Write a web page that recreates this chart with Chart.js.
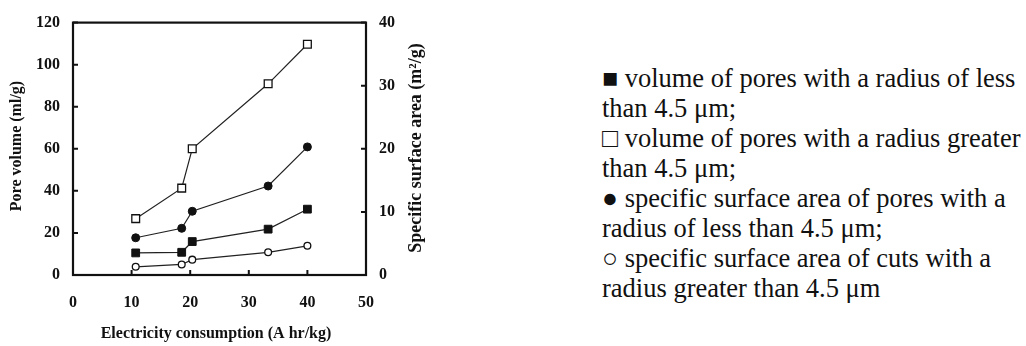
<!DOCTYPE html>
<html>
<head>
<meta charset="utf-8">
<script src="https://cdn.jsdelivr.net/npm/chart.js@4.4.1/dist/chart.umd.min.js"></script>
<style>
  html, body { margin: 0; padding: 0; background: #fff; }
  #wrap { position: relative; width: 1026px; height: 346px; overflow: hidden; }
  #chartBox { position: absolute; left: 0; top: 0; width: 440px; height: 346px; }
  #notes {
    position: absolute; left: 602px; top: 63px;
    font-family: "Liberation Serif", "Times New Roman", serif;
    font-size: 26.5px; line-height: 30px; color: #111; white-space: nowrap;
  }
</style>
</head>
<body>
<div id="wrap">
  <div id="chartBox"><canvas id="chart" width="440" height="346"></canvas></div>
  <div id="notes">
    ■ volume of pores with a radius of less<br>
    than 4.5 μm;<br>
    □ volume of pores with a radius greater<br>
    than 4.5 μm;<br>
    ● specific surface area of pores with a<br>
    radius of less than 4.5 μm;<br>
    ○ specific surface area of cuts with a<br>
    radius greater than 4.5 μm
  </div>
</div>
<script>
const consumption = [10.7, 18.55, 20.35, 33.3, 40];          // A hr/kg
const volSmall = [10.5, 10.8, 15.9, 21.8, 31.3];              // ml/g, filled squares
const volLarge = [26.8, 41.3, 60.0, 90.9, 109.7];             // ml/g, open squares
const areaSmall = [5.9, 7.4, 10.1, 14.1, 20.3];               // m2/g, filled circles
const areaLarge = [1.3, 1.67, 2.43, 3.6, 4.63];               // m2/g, open circles

const SERIF = '"Liberation Serif", "Times New Roman", serif';
const INK = "#111";

const pts = (ys) => ys.map((y, i) => ({ x: consumption[i], y }));

function series(label, ys, axis, style, radius, filled) {
  return {
    label,
    data: pts(ys),
    yAxisID: axis,
    showLine: true,
    borderColor: "#222",
    borderWidth: 1.2,
    pointStyle: style,
    pointRadius: radius,
    pointBackgroundColor: filled ? "#111" : "#fff",
    pointBorderColor: "#111",
    pointBorderWidth: filled ? 1 : 1.3,
  };
}

// frame, inward tick marks and the axis titles
const framePlugin = {
  id: "frame",
  afterDraw(chart) {
    const { ctx, chartArea: a, scales } = chart;
    ctx.save();
    ctx.strokeStyle = INK;
    ctx.lineWidth = 2.2;
    ctx.strokeRect(a.left, a.top, a.right - a.left, a.bottom - a.top);
    ctx.lineWidth = 2;
    const len = 5;
    ctx.beginPath();
    scales.x.ticks.forEach((t) => {
      const px = scales.x.getPixelForValue(t.value);
      ctx.moveTo(px, a.bottom);
      ctx.lineTo(px, a.bottom - len);
    });
    scales.y.ticks.forEach((t) => {
      const py = scales.y.getPixelForValue(t.value);
      ctx.moveTo(a.left, py);
      ctx.lineTo(a.left + len, py);
    });
    scales.y2.ticks.forEach((t) => {
      const py = scales.y2.getPixelForValue(t.value);
      ctx.moveTo(a.right, py);
      ctx.lineTo(a.right - len, py);
    });
    ctx.stroke();

    ctx.fillStyle = INK;
    ctx.textAlign = "center";
    ctx.textBaseline = "middle";
    ctx.font = "bold 16px " + SERIF;
    ctx.fillText("Electricity consumption (A hr/kg)", 216, 334);

    ctx.save();
    ctx.translate(17, 146);
    ctx.rotate(-Math.PI / 2);
    ctx.fillText("Pore volume (ml/g)", 0, 0);
    ctx.restore();

    ctx.font = "bold 18px " + SERIF;
    ctx.save();
    ctx.translate(416, 148);
    ctx.rotate(-Math.PI / 2);
    ctx.fillText("Specific surface area (m²/g)", 0, 0);
    ctx.restore();
    ctx.restore();
  },
};

const tickFont = { family: SERIF, size: 16, weight: "bold" };

new Chart(document.getElementById("chart"), {
  type: "scatter",
  data: {
    datasets: [
      series("volume of pores, radius < 4.5 μm", volSmall, "y", "rect", 5.5, true),
      series("volume of pores, radius > 4.5 μm", volLarge, "y", "rect", 5.5, false),
      series("surface area, radius < 4.5 μm", areaSmall, "y2", "circle", 4, true),
      series("surface area, radius > 4.5 μm", areaLarge, "y2", "circle", 3.4, false),
    ],
  },
  options: {
    responsive: false,
    animation: false,
    layout: { padding: { top: 17, left: 0, right: 0, bottom: 0 } },
    plugins: { legend: { display: false }, tooltip: { enabled: false } },
    scales: {
      x: {
        type: "linear",
        min: 0,
        max: 50,
        border: { display: false },
        grid: { display: false, drawTicks: false },
        ticks: { stepSize: 10, color: INK, font: tickFont, padding: 18, maxRotation: 0 },
        afterFit: (s) => { s.height = 71; },
      },
      y: {
        position: "left",
        min: 0,
        max: 120,
        border: { display: false },
        grid: { display: false, drawTicks: false },
        ticks: { stepSize: 20, color: INK, font: tickFont, padding: 13 },
        afterFit: (s) => { s.width = 73; },
      },
      y2: {
        position: "right",
        min: 0,
        max: 40,
        border: { display: false },
        grid: { display: false, drawTicks: false },
        ticks: { stepSize: 10, color: INK, font: tickFont, padding: 13 },
        afterFit: (s) => { s.width = 74; },
      },
    },
  },
  plugins: [framePlugin],
});
</script>
</body>
</html>
